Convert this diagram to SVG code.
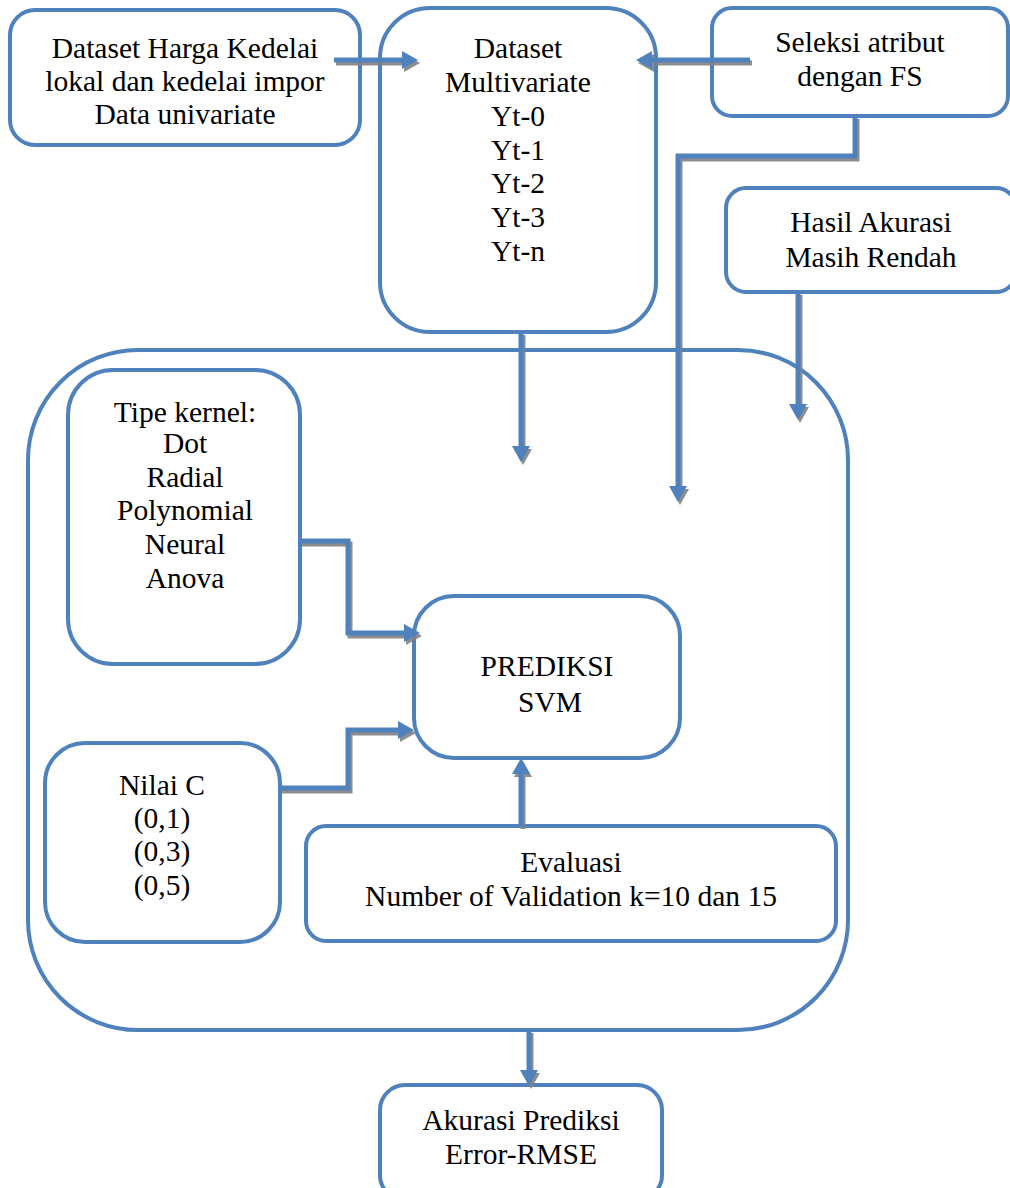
<svg xmlns="http://www.w3.org/2000/svg" width="1010" height="1188" viewBox="0 0 1010 1188">
<style>
.box{fill:#fff;stroke:#4F81BD;stroke-width:4}
.big{fill:none;stroke:#4F81BD;stroke-width:4}
.t{font-family:"Liberation Serif","Times New Roman",serif;font-size:29.5px;fill:#000;text-anchor:middle}
.c{fill:none;stroke:#4F81BD;stroke-width:5;marker-end:url(#ah)}
</style>
<defs>
<marker id="ah" markerUnits="userSpaceOnUse" markerWidth="16" markerHeight="18" refX="0" refY="9" orient="auto" viewBox="0 0 16 18">
<path d="M0,0 L16,9 L0,18 z" fill="#4F81BD"/>
</marker>
<filter id="sh" x="-10%" y="-10%" width="130%" height="130%">
<feDropShadow dx="2" dy="3" stdDeviation="0.6" flood-color="#808080" flood-opacity="0.9"/>
</filter>
</defs>
<rect x="28" y="350" width="820" height="680" rx="110" class="big"/>
<g id="n1"><rect x="10" y="10" width="350" height="135" rx="25" class="box"/>
<text class="t" x="185" y="58">Dataset Harga Kedelai</text>
<text class="t" x="185" y="91">lokal dan kedelai impor</text>
<text class="t" x="185" y="124">Data univariate</text></g>
<g id="n2"><rect x="380" y="8" width="276" height="324" rx="50" class="box"/>
<text class="t" x="518" y="58">Dataset</text>
<text class="t" x="518" y="92">Multivariate</text>
<text class="t" x="518" y="126">Yt-0</text>
<text class="t" x="518" y="160">Yt-1</text>
<text class="t" x="518" y="193">Yt-2</text>
<text class="t" x="518" y="227">Yt-3</text>
<text class="t" x="518" y="261">Yt-n</text></g>
<g id="n3"><rect x="712" y="8" width="296" height="108" rx="20" class="box"/>
<text class="t" x="860" y="52">Seleksi atribut</text>
<text class="t" x="860" y="86">dengan FS</text></g>
<g id="n4"><rect x="726" y="188" width="290" height="104" rx="20" class="box"/>
<text class="t" x="871" y="232">Hasil Akurasi</text>
<text class="t" x="871" y="267">Masih Rendah</text></g>
<g id="n5"><rect x="68" y="370" width="232" height="294" rx="45" class="box"/>
<text class="t" x="185" y="422">Tipe kernel:</text>
<text class="t" x="185" y="453">Dot</text>
<text class="t" x="185" y="487">Radial</text>
<text class="t" x="185" y="520">Polynomial</text>
<text class="t" x="185" y="554">Neural</text>
<text class="t" x="185" y="588">Anova</text></g>
<g id="n6"><rect x="414" y="596" width="266" height="162" rx="40" class="box"/>
<text class="t" x="547" y="676">PREDIKSI</text>
<text class="t" x="550" y="712">SVM</text></g>
<g id="n7"><rect x="45" y="743" width="235" height="199" rx="40" class="box"/>
<text class="t" x="162" y="795">Nilai C</text>
<text class="t" x="162" y="828">(0,1)</text>
<text class="t" x="162" y="861">(0,3)</text>
<text class="t" x="162" y="895">(0,5)</text></g>
<g id="n8"><rect x="306" y="826" width="530" height="115" rx="20" class="box"/>
<text class="t" x="571" y="872">Evaluasi</text>
<text class="t" x="571" y="906">Number of Validation k=10 dan 15</text></g>
<g id="n9"><rect x="380" y="1085" width="282" height="115" rx="25" class="box"/>
<text class="t" x="521" y="1130">Akurasi Prediksi</text>
<text class="t" x="521" y="1164">Error-RMSE</text></g>
<g id="connectors" filter="url(#sh)">
<path class="c" d="M334,60 H402"/>
<path class="c" d="M750,60 H652"/>
<path class="c" d="M855,116 V156 H678 V486"/>
<path class="c" d="M798,292 V404"/>
<path class="c" d="M521,332 V446"/>
<path class="c" d="M300,541 H348 V633 H404"/>
<path class="c" d="M280,788 H348 V730 H398"/>
<path class="c" d="M521,826 V774"/>
<path class="c" d="M529,1030 V1070"/>
</g>
</svg>
